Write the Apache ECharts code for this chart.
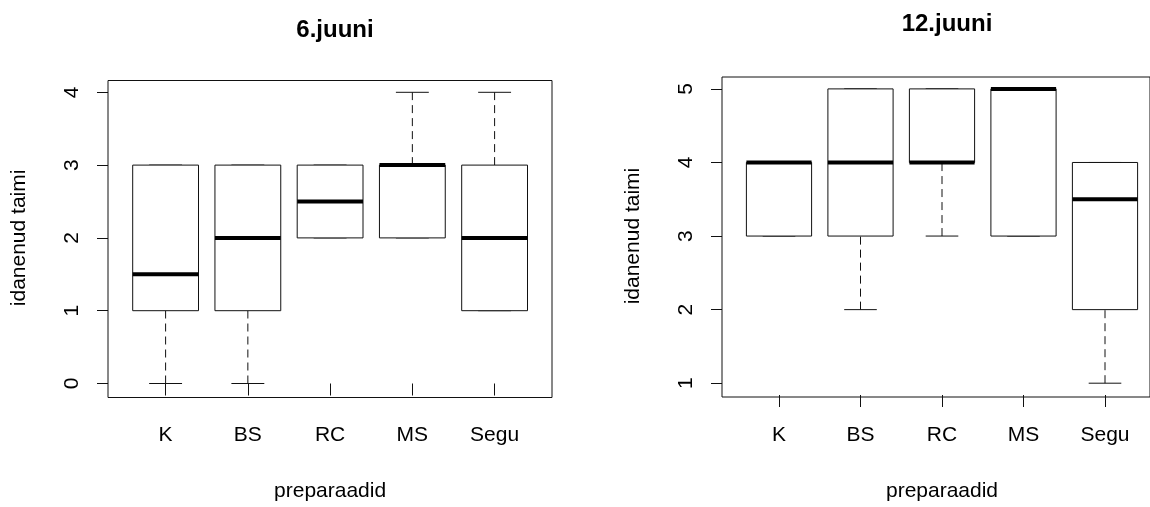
<!DOCTYPE html>
<html>
<head>
<meta charset="utf-8">
<script src="https://cdn.jsdelivr.net/npm/echarts@6/dist/echarts.min.js"></script>
<style>
  html, body { margin: 0; padding: 0; background: #fff; }
  #chart { width: 1150px; height: 507px; }
</style>
</head>
<body>
<div id="chart"></div>
<script>
const categories = ['K', 'BS', 'RC', 'MS', 'Segu'];

// 6.juuni
const june6Low = [0, 0, 2, 2, 1];
const june6Q1 = [1, 1, 2, 2, 1];
const june6Median = [1.5, 2, 2.5, 3, 2];
const june6Q3 = [3, 3, 3, 3, 3];
const june6High = [3, 3, 3, 4, 4];
const june6Ticks = [0, 1, 2, 3, 4];

// 12.juuni
const june12Low = [3, 2, 3, 3, 1];
const june12Q1 = [3, 3, 4, 3, 2];
const june12Median = [4, 4, 4, 5, 3.5];
const june12Q3 = [4, 5, 5, 5, 4];
const june12High = [4, 5, 5, 5, 4];
const june12Ticks = [1, 2, 3, 4, 5];

const font = 'Liberation Sans, Arial, sans-serif';
const ink = '#111';

const toRows = (low, q1, med, q3, high) =>
  categories.map((c, i) => [i + 1, low[i], q1[i], med[i], q3[i], high[i]]);

// R-like boxplot: box, thick median, dashed whiskers, staples
const renderBox = (params, api) => {
  const x = api.value(0);
  const low = api.value(1), q1 = api.value(2), med = api.value(3);
  const q3 = api.value(4), high = api.value(5);
  const half = 0.4, staple = 0.2;
  const line = (a, b, style) => ({
    type: 'line',
    shape: { x1: a[0], y1: a[1], x2: b[0], y2: b[1] },
    style: Object.assign({ stroke: ink, lineWidth: 1 }, style)
  });
  const tl = api.coord([x - half, q3]);
  const br = api.coord([x + half, q1]);
  const children = [
    line(api.coord([x, low]), api.coord([x, q1]), { lineDash: [8, 5] }),
    line(api.coord([x, q3]), api.coord([x, high]), { lineDash: [8, 5] }),
    line(api.coord([x - staple, low]), api.coord([x + staple, low]), {}),
    line(api.coord([x - staple, high]), api.coord([x + staple, high]), {}),
    {
      type: 'rect',
      shape: { x: tl[0], y: tl[1], width: br[0] - tl[0], height: br[1] - tl[1] },
      style: { fill: '#fff', stroke: ink, lineWidth: 1 }
    },
    line(api.coord([x - half, med]), api.coord([x + half, med]), { lineWidth: 4, stroke: '#000' })
  ];
  return { type: 'group', children };
};

const chart = echarts.init(document.getElementById('chart'));

const frameAxes = (idx) => ({
  x: { type: 'value', gridIndex: idx, show: false, min: 0, max: 1 },
  y: { type: 'value', gridIndex: idx, show: false, min: 0, max: 1 }
});

const dataXAxis = (idx, offset) => ({
  type: 'value', gridIndex: idx, min: 1, max: 5, interval: 1,
  offset: offset,
  axisLine: { show: false },
  axisTick: { show: true, length: 12, lineStyle: { color: ink } },
  splitLine: { show: false },
  axisLabel: {
    margin: 30, fontSize: 21, color: '#000', fontFamily: font,
    formatter: (v) => categories[v - 1] || ''
  },
  name: 'preparaadid', nameLocation: 'middle', nameGap: 86,
  nameTextStyle: { fontSize: 21, color: '#000', fontFamily: font }
});

const dataYAxis = (idx, ticks, offset) => ({
  type: 'value', gridIndex: idx, min: ticks[0], max: ticks[ticks.length - 1], interval: 1,
  offset: offset,
  axisLine: { show: false },
  axisTick: { show: true, length: 11, lineStyle: { color: ink } },
  splitLine: { show: false },
  axisLabel: {
    rotate: 90, margin: 25, fontSize: 21, color: '#000', fontFamily: font
  },
  name: 'idanenud taimi', nameLocation: 'middle', nameRotate: 90, nameGap: 78,
  nameTextStyle: { fontSize: 21, color: '#000', fontFamily: font }
});

const fL = frameAxes(0), fR = frameAxes(2);

chart.setOption({
  animation: false,
  backgroundColor: '#fff',
  title: [
    { text: '6.juuni', left: 330, top: 13, textAlign: 'center',
      textStyle: { fontSize: 24, fontWeight: 'bold', color: '#000', fontFamily: font } },
    { text: '12.juuni', left: 942, top: 7, textAlign: 'center',
      textStyle: { fontSize: 24, fontWeight: 'bold', color: '#000', fontFamily: font } }
  ],
  grid: [
    { left: 108, top: 80.5, width: 444, height: 317, show: true, borderColor: ink, borderWidth: 1, backgroundColor: 'transparent' },
    { left: 165.6, top: 92.3, width: 329, height: 293.7 },
    { left: 722, top: 77, width: 440, height: 320, show: true, borderColor: ink, borderWidth: 1, backgroundColor: 'transparent' },
    { left: 779, top: 88.9, width: 326, height: 296.3 }
  ],
  xAxis: [fL.x, dataXAxis(1, 11.5), fR.x, dataXAxis(3, 11.8)],
  yAxis: [fL.y, dataYAxis(1, june6Ticks, 57.6), fR.y, dataYAxis(3, june12Ticks, 57)],
  series: [
    {
      type: 'custom', xAxisIndex: 1, yAxisIndex: 1, clip: false,
      renderItem: renderBox,
      data: toRows(june6Low, june6Q1, june6Median, june6Q3, june6High)
    },
    {
      type: 'custom', xAxisIndex: 3, yAxisIndex: 3, clip: false,
      renderItem: renderBox,
      data: toRows(june12Low, june12Q1, june12Median, june12Q3, june12High)
    }
  ]
});
</script>
</body>
</html>
